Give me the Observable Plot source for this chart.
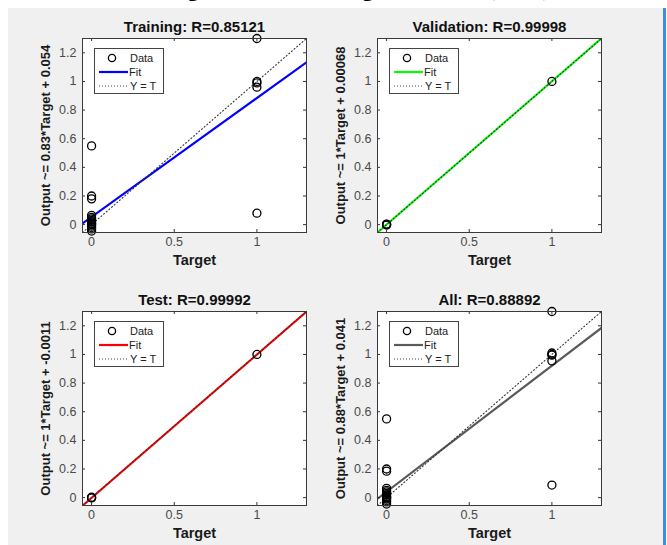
<!DOCTYPE html>
<html>
<head>
<meta charset="utf-8">
<script src="https://cdn.jsdelivr.net/npm/d3@7"></script>
<script src="https://cdn.jsdelivr.net/npm/@observablehq/plot@0.6"></script>
<style>
  body { margin: 0; background: #fff; width: 667px; height: 545px; overflow: hidden; position: relative;
         font-family: "Liberation Sans", Arial, Helvetica, sans-serif; }
  #fig-title { position: absolute; left: 0; width: 667px; top: -24px; line-height: 22px; text-align: center;
               font: bold 22px "Liberation Serif", "Times New Roman", serif; white-space: nowrap; color: #000; }
  #bg { position: absolute; left: 8px; top: 8px; width: 655px; height: 537px; background: #f0f0f0; }
  #edge { position: absolute; left: 663px; top: 8px; width: 3px; height: 537px; background: #3d8ee0; }
  .panel { position: absolute; }
  .legend { position: absolute; font-family: "Liberation Sans", Arial, sans-serif; font-size: 11px; }
</style>
</head>
<body>
<div id="fig-title">Training Results of the Regression Plot (ANN)</div>
<div id="bg"></div>
<div id="edge"></div>
<script>
// ---- data ----
const axisDomain = [-0.055, 1.3];
const xTicks = [0, 0.5, 1];
const yTicks = [0, 0.2, 0.4, 0.6, 0.8, 1, 1.2];

const panelTitles = ["Training: R=0.85121", "Validation: R=0.99998", "Test: R=0.99992", "All: R=0.88892"];
const yLabels = ["Output ~= 0.83*Target + 0.054", "Output ~= 1*Target + 0.00068",
                 "Output ~= 1*Target + -0.0011", "Output ~= 0.88*Target + 0.041"];
const fitSlopes = [0.83, 1, 1, 0.88];
const fitIntercepts = [0.054, 0.00068, -0.0011, 0.041];
const fitColors = ["#0000ff", "#00ff00", "#ff0000", "#5a5a5a"];

const trainingTarget = [0,0,0,0,0,0,0,0,0,0,0,0,0,0,0, 1,1,1,1,1];
const trainingOutput = [0.55,0.20,0.18,0.065,0.05,0.04,0.03,0.02,0.01,0.005,0,-0.01,-0.02,-0.03,-0.045,
                        1.30,1.00,0.99,0.96,0.08];
const validationTarget = [0,0,0,0, 1];
const validationOutput = [0.004,0.0,-0.003,0.002, 1.0];
const testTarget = [0,0,0, 1];
const testOutput = [0.003,-0.002,0.0, 1.0];
const allTarget = [0,0,0,0,0,0,0,0,0,0,0,0,0,0,0,0, 1,1,1,1,1,1];
const allOutput = [0.55,0.20,0.185,0.065,0.05,0.04,0.03,0.02,0.01,0.005,0.0,-0.005,-0.01,-0.02,-0.03,-0.045,
                   1.30,1.01,1.0,0.995,0.955,0.088];

const panelTargets = [trainingTarget, validationTarget, testTarget, allTarget];
const panelOutputs = [trainingOutput, validationOutput, testOutput, allOutput];

// ---- layout ----
const svgW = 290, svgH = 260, mL = 52, mR = 14, mT = 23, mB = 43;
const fw = svgW - mL - mR, fh = svgH - mT - mB;
const panelPos = [[30, 15], [325, 15], [30, 288], [325, 288]];
const font = "'Liberation Sans', Arial, Helvetica, sans-serif";

function drawPanel(i) {
  const pts = panelTargets[i].map((t, j) => ({target: t, output: panelOutputs[i][j]}));
  const fit = axisDomain.map(x => ({x, y: fitSlopes[i] * x + fitIntercepts[i]}));
  const ident = axisDomain.map(x => ({x, y: x}));
  const svg = Plot.plot({
    width: svgW, height: svgH, marginLeft: mL, marginRight: mR, marginTop: mT, marginBottom: mB,
    x: {domain: axisDomain},
    y: {domain: axisDomain},
    style: {background: "transparent", fontFamily: font, overflow: "visible"},
    marks: [
      Plot.frame({fill: "white", stroke: null}),
      Plot.line(fit, {x: "x", y: "y", stroke: fitColors[i], strokeWidth: 2.2, clip: true}),
      Plot.line(ident, {x: "x", y: "y", stroke: "#333", strokeWidth: 1.1, strokeDasharray: "1,2.5", clip: true}),
      Plot.dot(pts, {x: "target", y: "output", r: 4, stroke: "#000", strokeWidth: 1.3, fill: "none"}),
      Plot.tickX(xTicks, {x: d => d, stroke: "#333", insetTop: fh - 3}),
      Plot.tickX(xTicks, {x: d => d, stroke: "#333", insetBottom: fh - 3}),
      Plot.tickY(yTicks, {y: d => d, stroke: "#333", insetRight: fw - 3}),
      Plot.tickY(yTicks, {y: d => d, stroke: "#333", insetLeft: fw - 3}),
      Plot.frame({stroke: "#3a3a3a", strokeWidth: 1}),
      Plot.axisX(xTicks, {tickSize: 0, tickPadding: 5, label: null, fontSize: 12.5, fill: "#4a4a4a",
                          tickFormat: d => String(d)}),
      Plot.axisY(yTicks, {tickSize: 0, tickPadding: 6, label: null, fontSize: 12.5, fill: "#4a4a4a",
                          tickFormat: d => String(d)}),
      Plot.text(["Target"], {frameAnchor: "bottom", dy: 28, lineAnchor: "middle", textAnchor: "middle",
                             fontWeight: "bold", fontSize: 14.5, fill: "#1a1a1a"}),
      Plot.text([yLabels[i]], {frameAnchor: "left", dx: -37, rotate: -90, lineAnchor: "middle", textAnchor: "middle",
                               fontWeight: "bold", fontSize: 13, fill: "#1a1a1a"}),
      Plot.text([panelTitles[i]], {frameAnchor: "top", dy: -11, lineAnchor: "middle", textAnchor: "middle",
                                   fontWeight: "bold", fontSize: 15, fill: "#111"})
    ]
  });
  svg.classList.add("panel");
  svg.style.left = panelPos[i][0] + "px";
  svg.style.top = panelPos[i][1] + "px";
  document.body.appendChild(svg);

  const lg = document.createElement("div");
  lg.className = "legend";
  lg.style.left = (panelPos[i][0] + mL + 12) + "px";
  lg.style.top = (panelPos[i][1] + mT + 10) + "px";
  lg.innerHTML = `<svg width="70" height="46">
    <rect x="0.5" y="0.5" width="69" height="45" fill="#fff" stroke="#444"/>
    <circle cx="18" cy="10" r="3.6" fill="none" stroke="#000" stroke-width="1.3"/>
    <text x="36" y="10" dy="0.35em" fill="#222">Data</text>
    <line x1="5" x2="34" y1="24" y2="24" stroke="${fitColors[i]}" stroke-width="2.2"/>
    <text x="35" y="24" dy="0.35em" fill="#222">Fit</text>
    <line x1="5" x2="34" y1="38" y2="38" stroke="#404040" stroke-dasharray="1,2"/>
    <text x="36" y="38" dy="0.35em" fill="#222">Y = T</text>
  </svg>`;
  document.body.appendChild(lg);
}

for (let i = 0; i < 4; i++) drawPanel(i);
</script>
</body>
</html>
